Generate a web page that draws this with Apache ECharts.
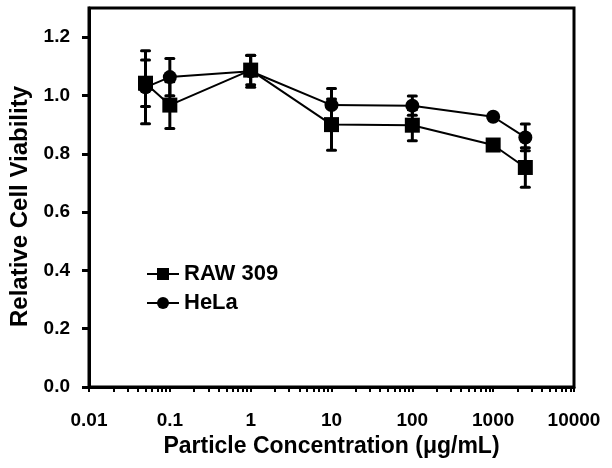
<!DOCTYPE html>
<html>
<head>
<meta charset="utf-8">
<script src="https://cdn.jsdelivr.net/npm/echarts@6/dist/echarts.min.js"></script>
<style>html,body{margin:0;padding:0;background:#fff;}#c{width:612px;height:468px;}</style>
</head>
<body>
<div id="c"></div>
<script>
const concentrations = [0.05, 0.1, 1, 10, 100, 1000, 2500];
const rawValues = [1.042, 0.967, 1.087, 0.900, 0.898, 0.830, 0.753];
const rawErrors = [0.080, 0.080, 0.050, 0.088, 0.053, 0.005, 0.068];
const helaValues = [1.028, 1.063, 1.083, 0.967, 0.965, 0.927, 0.856];
const helaErrors = [0.125, 0.064, 0.055, 0.057, 0.033, 0.005, 0.046];
const xTickValues = [0.01, 0.1, 1, 10, 100, 1000, 10000];
const xTickLabels = ['0.01', '0.1', '1', '10', '100', '1000', '10000'];
const yTickValues = [0, 0.2, 0.4, 0.6, 0.8, 1.0, 1.2];

const xMinorTicks = [];
for (let d = -2; d < 4; d++) {
  for (let m = 1; m <= 9; m++) xMinorTicks.push(+(m * Math.pow(10, d)).toPrecision(6));
}
xMinorTicks.push(10000);

const font = 'Liberation Sans, Arial, Helvetica, sans-serif';

function errData(vals, errs) {
  return concentrations.map((x, i) => [x, vals[i], errs[i]]);
}
function errRender(params, api) {
  const x = api.value(0), y = api.value(1), e = api.value(2);
  const top = api.coord([x, y + e]);
  const bot = api.coord([x, y - e]);
  const hw = 4;
  const st = { stroke: '#000', lineWidth: 3, lineCap: 'round' };
  return {
    type: 'group',
    children: [
      { type: 'line', shape: { x1: top[0], y1: top[1], x2: bot[0], y2: bot[1] }, style: { stroke: '#000', lineWidth: 3 } },
      { type: 'line', shape: { x1: top[0] - hw, y1: top[1], x2: top[0] + hw, y2: top[1] }, style: st },
      { type: 'line', shape: { x1: bot[0] - hw, y1: bot[1], x2: bot[0] + hw, y2: bot[1] }, style: st }
    ]
  };
}

const chart = echarts.init(document.getElementById('c'), null, { renderer: 'canvas' });
chart.setOption({
  animation: false,
  backgroundColor: '#fff',
  grid: { left: 84, right: 38, top: 8, bottom: 81, show: true, borderColor: '#000', borderWidth: 3, containLabel: false },
  legend: {
    data: ['RAW 309', 'HeLa'],
    orient: 'vertical',
    left: 141,
    top: 258,
    itemWidth: 32,
    itemHeight: 15,
    itemGap: 7,
    textStyle: { fontFamily: font, fontWeight: 'bold', fontSize: 22, color: '#000' }
  },
  xAxis: {
    type: 'log',
    logBase: 10,
    min: 0.01,
    max: 10000,
    name: 'Particle Concentration (\u03bcg/mL)',
    nameLocation: 'middle',
    nameGap: 48,
    nameTextStyle: { fontFamily: font, fontWeight: 'bold', fontSize: 23, color: '#000' },
    axisLine: { lineStyle: { color: '#000', width: 3 } },
    axisTick: { show: true, inside: false, length: 5, lineStyle: { color: '#000', width: 2 }, customValues: xMinorTicks },
    axisLabel: {
      customValues: xTickValues,
      margin: 24,
      fontFamily: font, fontWeight: 'bold', fontSize: 19, color: '#000',
      formatter: v => xTickLabels[Math.round(Math.log10(v)) + 2]
    },
    splitLine: { show: false },
    minorTick: { show: false }
  },
  yAxis: {
    type: 'value',
    min: 0,
    max: 1.3,
    interval: 0.2,
    name: 'Relative Cell Viability',
    nameLocation: 'middle',
    nameGap: 57,
    nameTextStyle: { fontFamily: font, fontWeight: 'bold', fontSize: 24, color: '#000', padding: [0, 18, 0, 0] },
    axisLine: { show: true, lineStyle: { color: '#000', width: 3 } },
    axisTick: { show: true, inside: false, length: 7, lineStyle: { color: '#000', width: 3 }, customValues: yTickValues },
    axisLabel: {
      customValues: yTickValues,
      margin: 19,
      fontFamily: font, fontWeight: 'bold', fontSize: 19, color: '#000',
      formatter: v => v.toFixed(1)
    },
    splitLine: { show: false }
  },
  series: [
    {
      name: 'RAW 309 error', type: 'custom', renderItem: errRender,
      data: errData(rawValues, rawErrors), encode: { x: 0, y: 1 }, z: 1, silent: true
    },
    {
      name: 'HeLa error', type: 'custom', renderItem: errRender,
      data: errData(helaValues, helaErrors), encode: { x: 0, y: 1 }, z: 1, silent: true
    },
    {
      name: 'RAW 309', type: 'line',
      data: concentrations.map((x, i) => [x, rawValues[i]]),
      symbol: 'rect', symbolSize: 15,
      itemStyle: { color: '#000' },
      lineStyle: { color: '#000', width: 2 },
      z: 3
    },
    {
      name: 'HeLa', type: 'line',
      data: concentrations.map((x, i) => [x, helaValues[i]]),
      symbol: 'circle', symbolSize: 14,
      itemStyle: { color: '#000' },
      lineStyle: { color: '#000', width: 2 },
      z: 3
    }
  ]
});
</script>
</body>
</html>
